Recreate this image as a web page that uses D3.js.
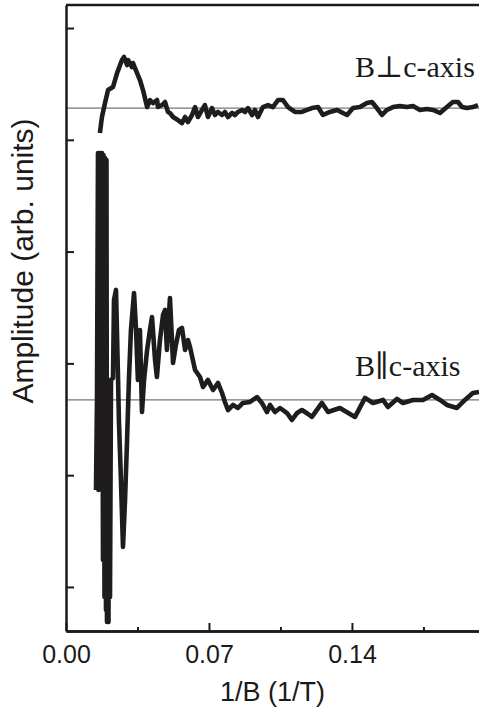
<!DOCTYPE html>
<html lang="en">
	<head>
		<meta charset="utf-8">
		<title>Amplitude vs 1/B</title>
		<style type="text/css">

		body {
			background-color: white;
			margin: 0px;
			padding: 0px;
		}

		svg {
			display: block;
		}

		.axis path, .axis line {
			stroke: #1a1a1a;
		}

		.axis text {
			fill: #1a1a1a;
			font-family: 'Liberation Sans', Arial, sans-serif;
			font-size: 25px;
		}

		.title {
			fill: #1a1a1a;
			font-family: 'Liberation Sans', Arial, sans-serif;
		}

		.curveLabel {
			fill: #1a1a1a;
			font-family: 'Liberation Serif', 'DejaVu Serif', serif;
			font-size: 30px;
		}

		</style>
	</head>
	<body>
		<div id="svganchor"></div>

		<script src="https://d3js.org/d3.v7.min.js"></script>
		<script type="text/javascript">

			// B perpendicular to c-axis (upper trace)
			const perpX = [0.0166, 0.0176, 0.0191, 0.0206, 0.0230, 0.0250, 0.0274, 0.0284, 0.0299, 0.0304,
				0.0323, 0.0328, 0.0348, 0.0362, 0.0377, 0.0397, 0.0411, 0.0426, 0.0446, 0.0450,
				0.0470, 0.0485, 0.0499, 0.0509, 0.0524, 0.0548, 0.0568, 0.0583, 0.0597, 0.0617,
				0.0632, 0.0646, 0.0666, 0.0680, 0.0695, 0.0715, 0.0729, 0.0744, 0.0764, 0.0778,
				0.0793, 0.0813, 0.0827, 0.0842, 0.0862, 0.0876, 0.0891, 0.0911, 0.0925, 0.0940,
				0.0964, 0.0989, 0.1013, 0.1038, 0.1062, 0.1087, 0.1121, 0.1155, 0.1180, 0.1204,
				0.1234, 0.1258, 0.1292, 0.1327, 0.1356, 0.1376, 0.1405, 0.1439, 0.1473, 0.1498,
				0.1522, 0.1547, 0.1571, 0.1601, 0.1635, 0.1669, 0.1699, 0.1733, 0.1767, 0.1797,
				0.1831, 0.1865, 0.1894, 0.1919, 0.1939, 0.1963, 0.1992, 0.2017];

			const perpY = [4.061, 4.204, 4.329, 4.445, 4.472, 4.597, 4.714, 4.741, 4.669, 4.714,
				4.651, 4.687, 4.597, 4.535, 4.445, 4.293, 4.356, 4.329, 4.356, 4.293,
				4.311, 4.338, 4.249, 4.240, 4.204, 4.177, 4.150, 4.204, 4.159, 4.222,
				4.293, 4.204, 4.267, 4.311, 4.204, 4.284, 4.222, 4.249, 4.222, 4.249,
				4.204, 4.240, 4.222, 4.249, 4.267, 4.249, 4.284, 4.222, 4.267, 4.204,
				4.293, 4.311, 4.293, 4.356, 4.356, 4.293, 4.249, 4.249, 4.267, 4.284,
				4.293, 4.222, 4.249, 4.267, 4.240, 4.222, 4.284, 4.293, 4.329, 4.338,
				4.284, 4.222, 4.267, 4.293, 4.302, 4.293, 4.302, 4.267, 4.275, 4.267,
				4.240, 4.293, 4.338, 4.338, 4.293, 4.284, 4.293, 4.311];

			// B parallel to c-axis (lower trace)
			const parX = [0.01469, 0.01517, 0.01566, 0.01591, 0.01615, 0.01664, 0.01689, 0.01738, 0.01762, 0.01811,
				0.01836, 0.01885, 0.01909, 0.01958, 0.01982, 0.02007, 0.02056, 0.02080, 0.02105, 0.02154,
				0.02203, 0.02301, 0.02350, 0.02448,
				0.0255, 0.0259, 0.0269, 0.0279, 0.0289,
				0.0299, 0.0308, 0.0318, 0.0333, 0.0343, 0.0352, 0.0362, 0.0372, 0.0382, 0.0397,
				0.0411, 0.0421, 0.0436, 0.0445, 0.0460, 0.0475, 0.0485, 0.0494, 0.0509, 0.0524,
				0.0538, 0.0553, 0.0568, 0.0583, 0.0597, 0.0607, 0.0632, 0.0656, 0.0671, 0.0695,
				0.0720, 0.0744, 0.0764, 0.0778, 0.0793, 0.0818, 0.0842, 0.0866, 0.0901, 0.0935,
				0.0959, 0.0984, 0.0999, 0.1023, 0.1048, 0.1082, 0.1106, 0.1131, 0.1155, 0.1185,
				0.1204, 0.1253, 0.1283, 0.1341, 0.1415, 0.1464, 0.1503, 0.1552, 0.1576, 0.1620,
				0.1650, 0.1699, 0.1748, 0.1792, 0.1831, 0.1865, 0.1914, 0.1953, 0.1992, 0.2022];

			const parY = [0.868, 1.673, 3.882, 0.868, 3.882, 1.047, 3.882, 0.957, 3.882, 0.242,
				3.864, -0.089, 3.837, -0.206, 3.819, -0.313, 1.852, -0.313, 1.494, -0.089,
				1.852, 1.869, 2.567, 2.657,
				1.852, 1.494, 0.957, 0.358, 0.778,
				1.315, 1.852, 2.299, 2.630, 2.299, 1.852, 2.299, 1.565, 1.852, 2.120,
				2.299, 2.415, 2.030, 1.878, 2.209, 2.433, 2.478, 2.120, 2.585, 2.004,
				2.165, 2.299, 2.317, 2.120, 2.209, 2.147, 1.941, 1.878, 1.789, 1.852,
				1.762, 1.825, 1.735, 1.655, 1.583, 1.628, 1.601, 1.646, 1.655, 1.699,
				1.646, 1.565, 1.628, 1.565, 1.601, 1.556, 1.494, 1.556, 1.583, 1.547,
				1.521, 1.646, 1.565, 1.601, 1.521, 1.691, 1.646, 1.673, 1.610, 1.682,
				1.646, 1.673, 1.673, 1.717, 1.673, 1.628, 1.601, 1.673, 1.735, 1.744];

			// zero lines of each trace
			const baselines = [4.284, 1.673];

			const labels = ["B\u22A5c-axis", "B\u2225c-axis"];
			const labelY = [4.56, 1.89];

			const majorTicks = [0, 0.07, 0.14],
				minorTicks = [0.035, 0.105, 0.175],
				yTicks = [0, 1, 2, 3, 4, 5];

			const width = 479,
				height = 713,
				padding = [5, 0, 82, 66];

			const xScale = d3.scaleLinear()
				.domain([0, 0.2022])
				.range([padding[3], width - padding[1]]);

			const yScale = d3.scaleLinear()
				.domain([-0.394, 5.206])
				.range([height - padding[2], padding[0]]);

			const svg = d3.select("#svganchor")
				.append("svg")
				.attr("width", width)
				.attr("height", height);

			// thin zero lines
			svg.selectAll(null)
				.data(baselines)
				.enter()
				.append("line")
				.attr("x1", xScale.range()[0])
				.attr("x2", xScale.range()[1])
				.attr("y1", function(d){ return yScale(d); })
				.attr("y2", function(d){ return yScale(d); })
				.style("stroke", "#777")
				.style("stroke-width", "1.3px");

			const line = d3.line()
				.x(function(d){ return xScale(d[0]); })
				.y(function(d){ return yScale(d[1]); });

			const series = [d3.zip(perpX, perpY), d3.zip(parX, parY)];

			svg.selectAll(null)
				.data(series)
				.enter()
				.append("path")
				.attr("d", line)
				.style("fill", "none")
				.style("stroke", "#1f1c1d")
				.style("stroke-width", "4.6px")
				.style("stroke-linejoin", "round");

			// axes: ticks point inward
			const xAxis = d3.axisBottom(xScale)
				.tickValues(majorTicks)
				.tickSizeInner(-8)
				.tickSizeOuter(0)
				.tickPadding(14)
				.tickFormat(d3.format(".2f"));

			const xMinor = d3.axisBottom(xScale)
				.tickValues(minorTicks)
				.tickSizeInner(-4)
				.tickSizeOuter(0)
				.tickFormat("");

			const yAxis = d3.axisLeft(yScale)
				.tickValues(yTicks)
				.tickSizeInner(-8)
				.tickSizeOuter(0)
				.tickFormat("");

			svg.append("g")
				.attr("class", "axis")
				.attr("transform", "translate(0," + (height - padding[2]) + ")")
				.call(xAxis);

			svg.append("g")
				.attr("class", "axis")
				.attr("transform", "translate(0," + (height - padding[2]) + ")")
				.call(xMinor);

			svg.append("g")
				.attr("class", "axis")
				.attr("transform", "translate(" + padding[3] + ",0)")
				.call(yAxis);

			svg.selectAll(".axis path").style("stroke-width", "2.5px");
			svg.selectAll(".axis line").style("stroke-width", "2px");

			// top frame line
			svg.append("line")
				.attr("x1", padding[3])
				.attr("x2", width)
				.attr("y1", padding[0])
				.attr("y2", padding[0])
				.style("stroke", "#1a1a1a")
				.style("stroke-width", "2.5px");

			svg.append("text")
				.attr("class", "title")
				.attr("x", (padding[3] + width) / 2)
				.attr("y", 701)
				.attr("text-anchor", "middle")
				.style("font-size", "27px")
				.text("1/B (1/T)");

			svg.append("text")
				.attr("class", "title")
				.attr("transform", "translate(33,261) rotate(-90)")
				.attr("text-anchor", "middle")
				.style("font-size", "30px")
				.text("Amplitude (arb. units)");

			svg.selectAll(null)
				.data(labels)
				.enter()
				.append("text")
				.attr("class", "curveLabel")
				.attr("x", 355)
				.attr("y", function(_, i){ return yScale(labelY[i]); })
				.text(function(d){ return d; });

		</script>
	</body>
</html>
